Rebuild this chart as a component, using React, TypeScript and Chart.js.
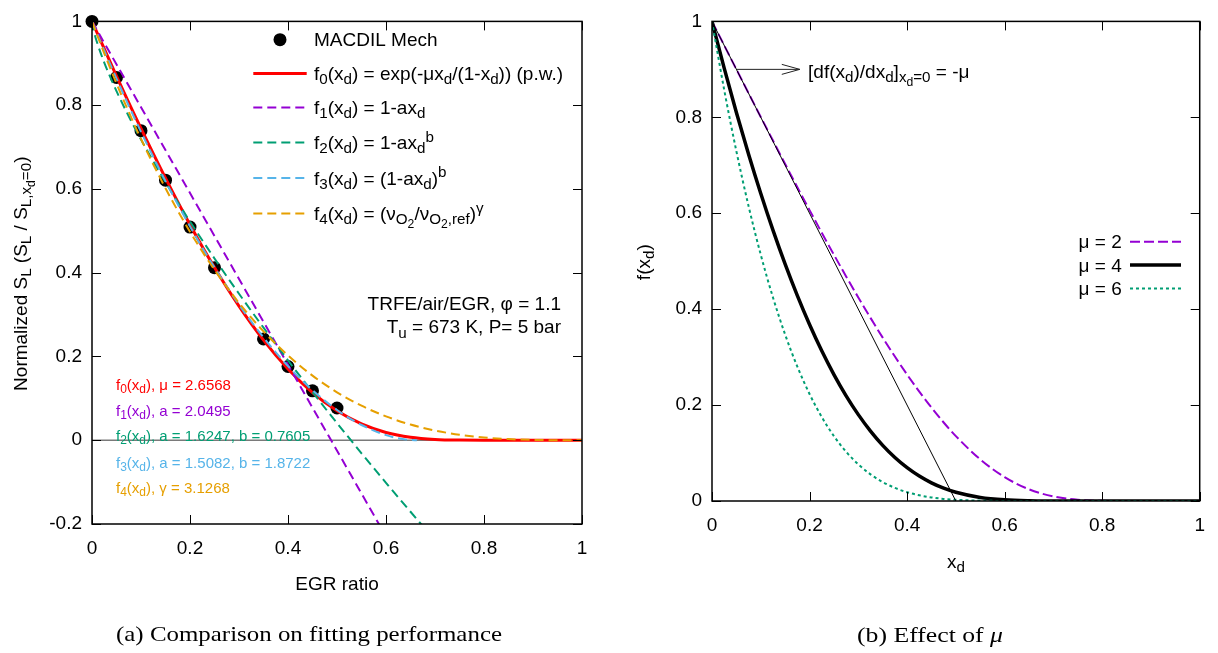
import React, { useEffect, useRef } from 'react';
import { Chart, registerables } from 'chart.js';

Chart.register(...registerables);

// ---------------- axis ticks ----------------
const X_TICKS = [0, 0.2, 0.4, 0.6, 0.8, 1];
const X_TICK_LABELS = ['0', '0.2', '0.4', '0.6', '0.8', '1'];
const LEFT_Y_TICKS = [-0.2, 0, 0.2, 0.4, 0.6, 0.8, 1];
const LEFT_Y_TICK_LABELS = ['-0.2', '0', '0.2', '0.4', '0.6', '0.8', '1'];
const RIGHT_Y_TICKS = [0, 0.2, 0.4, 0.6, 0.8, 1];
const RIGHT_Y_TICK_LABELS = ['0', '0.2', '0.4', '0.6', '0.8', '1'];

// ---------------- left panel data ----------------
const MECH_X = [0, 0.05, 0.1, 0.15, 0.2, 0.25, 0.35, 0.4, 0.45, 0.5];
const MECH_Y = [1.0, 0.866, 0.739, 0.621, 0.509, 0.412, 0.242, 0.176, 0.118, 0.077];

const F0_X = [0, 0.05, 0.1, 0.15, 0.2, 0.25, 0.3, 0.35, 0.4, 0.45, 0.5, 0.55, 0.6, 0.65, 0.7, 0.75, 0.8, 0.85, 0.9, 0.95, 1];
const F0_Y = [1, 0.8695, 0.7444, 0.6257, 0.5147, 0.4125, 0.3203, 0.2392, 0.1701, 0.1137, 0.0702, 0.0389, 0.0186, 0.0072, 0.002, 0.0003, 0, 0, 0, 0, 0];

const F1_X = [0, 0.6];
const F1_Y = [1, -0.2297];

const F2_X = [0, 0.005, 0.01, 0.025, 0.05, 0.075, 0.1, 0.15, 0.2, 0.25, 0.3, 0.35, 0.4, 0.45, 0.5, 0.55, 0.6, 0.65, 0.7];
const F2_Y = [1, 0.9711, 0.951, 0.9017, 0.8335, 0.7734, 0.718, 0.6161, 0.5222, 0.4339, 0.3497, 0.2688, 0.1906, 0.1148, 0.041, -0.0311, -0.1017, -0.1708, -0.2387];

const F3_X = [0, 0.025, 0.05, 0.075, 0.1, 0.15, 0.2, 0.25, 0.3, 0.35, 0.4, 0.45, 0.5, 0.55, 0.6, 0.625, 0.65, 0.663];
const F3_Y = [1, 0.9306, 0.8635, 0.7987, 0.7363, 0.6187, 0.5106, 0.4123, 0.3238, 0.2454, 0.1771, 0.1194, 0.0723, 0.0364, 0.0122, 0.0047, 0.0006, 0];

const F4_X = [0, 0.025, 0.05, 0.075, 0.1, 0.15, 0.2, 0.25, 0.3, 0.35, 0.4, 0.45, 0.5, 0.55, 0.6, 0.65, 0.7, 0.75, 0.8, 0.85, 0.9, 0.95, 1];
const F4_Y = [1, 0.9239, 0.8518, 0.7837, 0.7193, 0.6016, 0.4977, 0.4068, 0.3278, 0.26, 0.2025, 0.1542, 0.1145, 0.0824, 0.057, 0.0375, 0.0232, 0.0131, 0.0065, 0.0027, 0.0007, 0.0001, 0];

const ZERO_X = [0, 1];
const ZERO_Y = [0, 0];

// ---------------- right panel data ----------------
const MU_X = [0, 0.025, 0.05, 0.075, 0.1, 0.125, 0.15, 0.175, 0.2, 0.225, 0.25, 0.275, 0.3, 0.325, 0.35, 0.375, 0.4, 0.425, 0.45, 0.475, 0.5, 0.55, 0.6, 0.65, 0.7, 0.75, 0.8, 0.85, 0.9, 0.95, 1];
const MU2_Y = [1, 0.95, 0.9001, 0.8503, 0.8007, 0.7515, 0.7026, 0.6543, 0.6065, 0.5595, 0.5134, 0.4683, 0.4244, 0.3818, 0.3406, 0.3012, 0.2636, 0.228, 0.1947, 0.1637, 0.1353, 0.0868, 0.0498, 0.0244, 0.0094, 0.0025, 0.0003, 0, 0, 0, 0];
const MU4_Y = [1, 0.9025, 0.8102, 0.723, 0.6412, 0.5647, 0.4937, 0.4281, 0.3679, 0.3131, 0.2636, 0.2193, 0.1801, 0.1457, 0.116, 0.0907, 0.0695, 0.052, 0.0379, 0.0268, 0.0183, 0.0075, 0.0025, 0.0006, 0.0001, 0, 0, 0, 0, 0, 0];
const MU6_Y = [1, 0.8574, 0.7292, 0.6148, 0.5134, 0.4244, 0.3469, 0.2801, 0.2231, 0.1752, 0.1353, 0.1027, 0.0764, 0.0556, 0.0395, 0.0273, 0.0183, 0.0119, 0.0074, 0.0044, 0.0025, 0.0007, 0.0001, 0, 0, 0, 0, 0, 0, 0, 0];

const TANGENT_X = [0, 0.5];
const TANGENT_Y = [1, 0];

const ARROW_X = [0.05, 0.18];
const ARROW_Y = [0.9, 0.9];

// ---------------- styles / layout ----------------
const SANS = '"Liberation Sans", Arial, Helvetica, sans-serif';
const SERIF = '"Liberation Serif", "Times New Roman", serif';
const FONT_SIZE = 19;
const NOTE_SIZE = 15;
const TICK_LEN = 9;
const X_AXIS_BOX = 50;
const RED = '#ff0000';
const PURPLE = '#9400d3';
const GREEN = '#009e73';
const BLUE = '#56b4e9';
const ORANGE = '#e69f00';
const DASH = [9, 5];

type Seg = [string, number];
const LVL_SCALE: Record<string, number> = { '0': 1, '1': 0.8, '-1': 0.8, '-2': 0.64 };
const LVL_SHIFT: Record<string, number> = { '0': 0, '1': -0.38, '-1': 0.22, '-2': 0.4 };

function segFont(size: number, lvl: number, family: string, style = '') {
  return `${style}${(size * LVL_SCALE[String(lvl)]).toFixed(2)}px ${family}`;
}

function richWidth(ctx: CanvasRenderingContext2D, segs: Seg[], size: number, family: string) {
  let w = 0;
  for (const [t, l] of segs) {
    ctx.font = segFont(size, l, family);
    w += ctx.measureText(t).width;
  }
  return w;
}

function drawRich(ctx: CanvasRenderingContext2D, x: number, y: number, segs: Seg[], size: number, family: string, color: string, align: string) {
  const w = richWidth(ctx, segs, size, family);
  let cx = align === 'left' ? x : align === 'right' ? x - w : x - w / 2;
  ctx.fillStyle = color;
  ctx.textAlign = 'left';
  ctx.textBaseline = 'alphabetic';
  for (const [t, l] of segs) {
    ctx.font = segFont(size, l, family);
    ctx.fillText(t, cx, y + LVL_SHIFT[String(l)] * size);
    cx += ctx.measureText(t).width;
  }
}

function drawCaption(ctx: CanvasRenderingContext2D, parts: { t: string; style: string }[], cx: number, baseline: number, size: number, targetWidth: number) {
  let w = 0;
  for (const p of parts) {
    ctx.font = `${p.style}${size}px ${SERIF}`;
    w += ctx.measureText(p.t).width;
  }
  const s = targetWidth / w;
  ctx.save();
  ctx.translate(cx - targetWidth / 2, baseline);
  ctx.scale(s, 1);
  ctx.fillStyle = '#000';
  ctx.textAlign = 'left';
  ctx.textBaseline = 'alphabetic';
  let x = 0;
  for (const p of parts) {
    ctx.font = `${p.style}${size}px ${SERIF}`;
    ctx.fillText(p.t, x, 0);
    x += ctx.measureText(p.t).width;
  }
  ctx.restore();
}

const pts = (xs: number[], ys: number[]) => xs.map((x, i) => ({ x, y: ys[i] }));

function curve(label: string, xs: number[], ys: number[], color: string, width: number, dash: number[], order: number) {
  return {
    label,
    data: pts(xs, ys),
    showLine: true,
    borderColor: color,
    backgroundColor: color,
    borderWidth: width,
    borderDash: dash,
    pointRadius: 0,
    pointHoverRadius: 0,
    cubicInterpolationMode: 'monotone',
    fill: false,
    clip: 0,
    order,
  };
}

function scalesFor(yTicks: number[], yLabels: string[], yMin: number, yBoxWidth: number, xPad: number) {
  return {
    x: {
      type: 'linear',
      min: 0,
      max: 1,
      grid: { display: false, drawTicks: false },
      border: { display: false },
      ticks: {
        color: '#000',
        font: { family: SANS, size: FONT_SIZE },
        padding: xPad,
        maxRotation: 0,
        autoSkip: false,
        callback: (_v: any, i: number) => X_TICK_LABELS[i],
      },
      afterBuildTicks: (axis: any) => {
        axis.ticks = X_TICKS.map((v) => ({ value: v }));
      },
      afterFit: (s: any) => {
        s.height = X_AXIS_BOX;
      },
    },
    y: {
      type: 'linear',
      min: yMin,
      max: 1,
      grid: { display: false, drawTicks: false },
      border: { display: false },
      ticks: {
        color: '#000',
        font: { family: SANS, size: FONT_SIZE },
        padding: 10,
        autoSkip: false,
        callback: (_v: any, i: number) => yLabels[i],
      },
      afterBuildTicks: (axis: any) => {
        axis.ticks = yTicks.map((v) => ({ value: v }));
      },
      afterFit: (s: any) => {
        s.width = yBoxWidth;
      },
    },
  };
}

function decorPlugin(d: any) {
  return {
    id: 'decor',
    afterDraw(chart: any) {
      const ctx: CanvasRenderingContext2D = chart.ctx;
      const a = chart.chartArea;
      const xs = chart.scales.x;
      const ys = chart.scales.y;
      ctx.save();
      // inward tick marks on all four sides
      ctx.strokeStyle = '#000';
      ctx.lineWidth = 1;
      ctx.setLineDash([]);
      ctx.beginPath();
      for (const v of X_TICKS) {
        const p = Math.round(xs.getPixelForValue(v)) + 0.5;
        ctx.moveTo(p, a.bottom);
        ctx.lineTo(p, a.bottom - TICK_LEN);
        ctx.moveTo(p, a.top);
        ctx.lineTo(p, a.top + TICK_LEN);
      }
      for (const v of d.yTicks) {
        const p = Math.round(ys.getPixelForValue(v)) + 0.5;
        ctx.moveTo(a.left, p);
        ctx.lineTo(a.left + TICK_LEN, p);
        ctx.moveTo(a.right, p);
        ctx.lineTo(a.right - TICK_LEN, p);
      }
      ctx.stroke();
      ctx.lineWidth = 1.5;
      ctx.strokeRect(a.left, a.top, a.right - a.left, a.bottom - a.top);

      // axis titles
      drawRich(ctx, (a.left + a.right) / 2, a.bottom + d.xTitleDy, d.xTitle, FONT_SIZE, SANS, '#000', 'center');
      ctx.save();
      ctx.translate(a.left + d.yTitleDx, (a.top + a.bottom) / 2 + 1);
      ctx.rotate(-Math.PI / 2);
      drawRich(ctx, 0, 0, d.yTitle, FONT_SIZE, SANS, '#000', 'center');
      ctx.restore();

      // free text notes
      for (const n of d.notes) {
        drawRich(ctx, a.left + n.dx, a.top + n.dy, n.segs, n.size, SANS, n.color, n.align);
      }

      // legend
      for (const row of d.legend) {
        const ds = chart.data.datasets.find((s: any) => s.label === row.label);
        const y = a.top + row.dy;
        if (row.kind === 'point') {
          ctx.fillStyle = ds.backgroundColor;
          ctx.beginPath();
          ctx.arc(a.left + d.legendSymX, y, ds.pointRadius, 0, Math.PI * 2);
          ctx.fill();
        } else {
          ctx.strokeStyle = ds.borderColor;
          ctx.lineWidth = ds.borderWidth;
          ctx.setLineDash(ds.borderDash || []);
          ctx.lineCap = 'butt';
          ctx.beginPath();
          ctx.moveTo(a.left + d.legendLineX0, y);
          ctx.lineTo(a.left + d.legendLineX1, y);
          ctx.stroke();
          ctx.setLineDash([]);
        }
        drawRich(ctx, a.left + d.legendTextX, y + 6.5, row.segs, FONT_SIZE, SANS, '#000', d.legendAlign);
      }

      // arrow annotation
      if (d.arrow) {
        const x0 = xs.getPixelForValue(ARROW_X[0]);
        const x1 = xs.getPixelForValue(ARROW_X[1]);
        const y0 = ys.getPixelForValue(ARROW_Y[0]);
        const y1 = ys.getPixelForValue(ARROW_Y[1]);
        ctx.strokeStyle = '#222';
        ctx.lineWidth = 1;
        ctx.beginPath();
        ctx.moveTo(x0, y0);
        ctx.lineTo(x1, y1);
        ctx.moveTo(x1 - 18, y1 - 5);
        ctx.lineTo(x1, y1);
        ctx.lineTo(x1 - 18, y1 + 5);
        ctx.stroke();
        drawRich(ctx, xs.getPixelForValue(d.arrow.labelX), ys.getPixelForValue(d.arrow.labelY), d.arrow.segs, FONT_SIZE, SANS, '#000', 'left');
      }

      // caption
      drawCaption(ctx, d.caption.parts, d.caption.cx, d.caption.baseline, 22, d.caption.width);
      ctx.restore();
    },
  };
}

const sub = (t: string): Seg => [t, -1];
const nrm = (t: string): Seg => [t, 0];

const LEFT_DECOR = {
  yTicks: LEFT_Y_TICKS,
  xTitle: [nrm('EGR ratio')] as Seg[],
  xTitleDy: 66,
  yTitle: [nrm('Normalized S'), sub('L'), nrm(' (S'), sub('L'), nrm(' / S'), sub('L,x'), ['d', -2], sub('=0'), nrm(')')] as Seg[],
  yTitleDx: -65,
  notes: [
    { dx: 24, dy: 368.3, size: NOTE_SIZE, color: RED, align: 'left', segs: [nrm('f'), sub('0'), nrm('(x'), sub('d'), nrm('), μ = 2.6568')] },
    { dx: 24, dy: 394.3, size: NOTE_SIZE, color: PURPLE, align: 'left', segs: [nrm('f'), sub('1'), nrm('(x'), sub('d'), nrm('), a = 2.0495')] },
    { dx: 24, dy: 419.7, size: NOTE_SIZE, color: GREEN, align: 'left', segs: [nrm('f'), sub('2'), nrm('(x'), sub('d'), nrm('), a = 1.6247, b = 0.7605')] },
    { dx: 24, dy: 446.3, size: NOTE_SIZE, color: BLUE, align: 'left', segs: [nrm('f'), sub('3'), nrm('(x'), sub('d'), nrm('), a = 1.5082, b = 1.8722')] },
    { dx: 24, dy: 471.7, size: NOTE_SIZE, color: ORANGE, align: 'left', segs: [nrm('f'), sub('4'), nrm('(x'), sub('d'), nrm('), γ = 3.1268')] },
    { dx: 469, dy: 288.7, size: FONT_SIZE, color: '#000', align: 'right', segs: [nrm('TRFE/air/EGR, φ = 1.1')] },
    { dx: 469, dy: 312, size: FONT_SIZE, color: '#000', align: 'right', segs: [nrm('T'), sub('u'), nrm(' = 673 K, P= 5 bar')] },
  ],
  legendSymX: 188,
  legendLineX0: 161.3,
  legendLineX1: 214.7,
  legendTextX: 222,
  legendAlign: 'left',
  legend: [
    { label: 'MACDIL Mech', kind: 'point', dy: 18.3, segs: [nrm('MACDIL Mech')] },
    { label: 'f0', kind: 'line', dy: 52, segs: [nrm('f'), sub('0'), nrm('(x'), sub('d'), nrm(') = exp(-μx'), sub('d'), nrm('/(1-x'), sub('d'), nrm(')) (p.w.)')] },
    { label: 'f1', kind: 'line', dy: 86, segs: [nrm('f'), sub('1'), nrm('(x'), sub('d'), nrm(') = 1-ax'), sub('d')] },
    { label: 'f2', kind: 'line', dy: 121, segs: [nrm('f'), sub('2'), nrm('(x'), sub('d'), nrm(') = 1-ax'), sub('d'), ['b', 1]] },
    { label: 'f3', kind: 'line', dy: 156.7, segs: [nrm('f'), sub('3'), nrm('(x'), sub('d'), nrm(') = (1-ax'), sub('d'), nrm(')'), ['b', 1]] },
    { label: 'f4', kind: 'line', dy: 192, segs: [nrm('f'), sub('4'), nrm('(x'), sub('d'), nrm(') = (ν'), sub('O'), ['2', -2], nrm('/ν'), sub('O'), ['2', -2], sub(',ref'), nrm(')'), ['γ', 1]] },
  ],
  arrow: null,
  caption: { parts: [{ t: '(a) Comparison on fitting performance', style: '' }], cx: 309, baseline: 641, width: 386 },
};

const RIGHT_DECOR = {
  yTicks: RIGHT_Y_TICKS,
  xTitle: [nrm('x'), sub('d')] as Seg[],
  xTitleDy: 67,
  yTitle: [nrm('f(x'), sub('d'), nrm(')')] as Seg[],
  yTitleDx: -62,
  notes: [],
  legendSymX: 0,
  legendLineX0: 418,
  legendLineX1: 469,
  legendTextX: 409.7,
  legendAlign: 'right',
  legend: [
    { label: 'μ = 2', kind: 'line', dy: 220.3, segs: [nrm('μ = 2')] },
    { label: 'μ = 4', kind: 'line', dy: 243.7, segs: [nrm('μ = 4')] },
    { label: 'μ = 6', kind: 'line', dy: 267, segs: [nrm('μ = 6')] },
  ],
  arrow: {
    labelX: 0.197,
    labelY: 0.8815,
    segs: [nrm('[df(x'), sub('d'), nrm(')/dx'), sub('d'), nrm(']'), sub('x'), ['d', -2], sub('=0'), nrm(' = -μ')] as Seg[],
  },
  caption: { parts: [{ t: '(b) Effect of ', style: '' }, { t: 'μ', style: 'italic ' }], cx: 321, baseline: 641.5, width: 146 },
};

function leftConfig(): any {
  return {
    type: 'scatter',
    data: {
      datasets: [
        { label: 'zero', data: pts(ZERO_X, ZERO_Y), showLine: true, borderColor: '#7a7a7a', borderWidth: 1.5, pointRadius: 0, clip: 0, order: 20 },
        { label: 'MACDIL Mech', data: pts(MECH_X, MECH_Y), showLine: false, backgroundColor: '#000', borderColor: '#000', borderWidth: 0, pointRadius: 6.5, pointHoverRadius: 6.5, clip: false, order: 10 },
        curve('f0', F0_X, F0_Y, RED, 3, [], 6),
        curve('f1', F1_X, F1_Y, PURPLE, 2, DASH, 5),
        curve('f2', F2_X, F2_Y, GREEN, 2, DASH, 4),
        curve('f3', F3_X, F3_Y, BLUE, 2, DASH, 3),
        curve('f4', F4_X, F4_Y, ORANGE, 2, DASH, 2),
      ],
    },
    options: {
      animation: false,
      responsive: false,
      devicePixelRatio: 1,
      events: [],
      layout: { padding: { left: 0, right: 27, top: 14, bottom: 653 - 524 - X_AXIS_BOX } },
      plugins: { legend: { display: false }, tooltip: { enabled: false } },
      scales: scalesFor(LEFT_Y_TICKS, LEFT_Y_TICK_LABELS, -0.2, 92, 13),
    },
    plugins: [decorPlugin(LEFT_DECOR)],
  };
}

function rightConfig(): any {
  return {
    type: 'scatter',
    data: {
      datasets: [
        curve('μ = 2', MU_X, MU2_Y, PURPLE, 2, [10, 4], 4),
        curve('μ = 4', MU_X, MU4_Y, '#000', 3.5, [], 3),
        curve('μ = 6', MU_X, MU6_Y, GREEN, 2, [3, 3], 2),
        curve('tangent', TANGENT_X, TANGENT_Y, '#000', 1, [], 1),
      ],
    },
    options: {
      animation: false,
      responsive: false,
      devicePixelRatio: 1,
      events: [],
      layout: { padding: { left: 0, right: 18, top: 14, bottom: 653 - 501 - X_AXIS_BOX } },
      plugins: { legend: { display: false }, tooltip: { enabled: false } },
      scales: scalesFor(RIGHT_Y_TICKS, RIGHT_Y_TICK_LABELS, 0, 103, 13),
    },
    plugins: [decorPlugin(RIGHT_DECOR)],
  };
}

export default function App() {
  const leftRef = useRef<HTMLCanvasElement>(null);
  const rightRef = useRef<HTMLCanvasElement>(null);

  useEffect(() => {
    const c1 = new Chart(leftRef.current as HTMLCanvasElement, leftConfig());
    const c2 = new Chart(rightRef.current as HTMLCanvasElement, rightConfig());
    return () => {
      c1.destroy();
      c2.destroy();
    };
  }, []);

  return (
    <div style={{ position: 'fixed', left: 0, top: 0, width: 1218, height: 653, background: '#fff', overflow: 'hidden' }}>
      <canvas ref={leftRef} width={609} height={653} style={{ position: 'absolute', left: 0, top: 0, width: 609, height: 653 }} />
      <canvas ref={rightRef} width={609} height={653} style={{ position: 'absolute', left: 609, top: 0, width: 609, height: 653 }} />
    </div>
  );
}
